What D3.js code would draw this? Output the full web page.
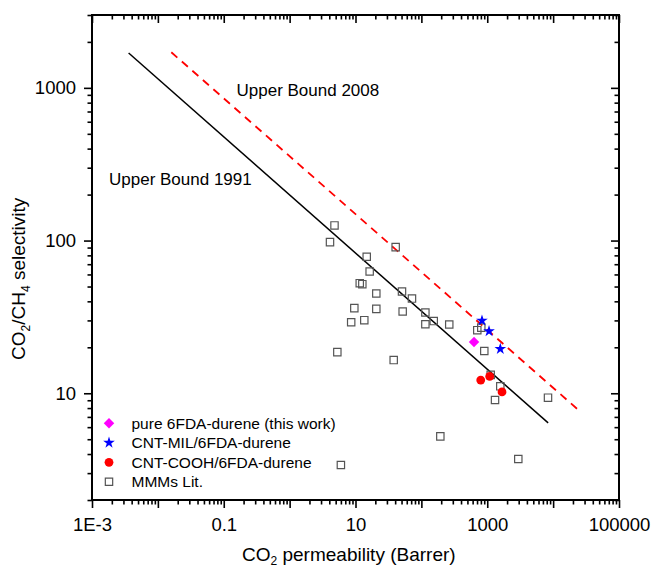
<!DOCTYPE html>
<html>
<head>
<meta charset="utf-8">
<script src="https://cdn.jsdelivr.net/npm/d3@7"></script>
<style>
  body { margin: 0; background: #fff; }
  svg { font-family: "Liberation Sans", Arial, sans-serif; }
</style>
</head>
<body>
<svg id="chart"></svg>
<script>
// MMMs literature data (CO2 permeability, CO2/CH4 selectivity)
const litPerm = [4.8, 4.1, 40.7, 14.8, 16.4, 11.6, 12.7, 20.7, 50.8, 72, 9.6, 20.7, 52, 13.6, 8.6,
  115, 115, 154, 265, 706, 812, 902, 5.3, 38, 1128, 1578, 1312, 8360, 194, 2960, 6.0];
const litSel = [125.6, 97.7, 90.6, 78.3, 62.7, 52.6, 51.8, 45.0, 46.4, 41.7, 36.1, 35.7, 34.3, 30.1, 29.2,
  33.8, 28.3, 29.7, 28.2, 25.9, 26.9, 18.9, 18.6, 16.5, 13.2, 11.1, 9.04, 9.36, 5.22, 3.71, 3.39];

const purePerm = [630];
const pureSel = [21.7];

const milPerm = [832, 1064, 1578];
const milSel = [29.9, 25.5, 19.5];

const coohPerm = [796, 1089, 1675];
const coohSel = [12.2, 12.9, 10.2];

// Robeson upper bounds, end points
const bound1991 = [[0.0036, 1690], [8400, 6.4]];
const bound2008 = [[0.016, 1710], [24800, 7.7]];

const xLabels = [1e-3, 1e-1, 1e1, 1e3, 1e5];
const legendNames = ["pure 6FDA-durene (this work)", "CNT-MIL/6FDA-durene", "CNT-COOH/6FDA-durene", "MMMs Lit."];

let width = 654,
  height = 569;
let mLeft = 92, mRight = 619, mTop = 15, mBottom = 500;

let svg = d3.select("#chart").attr("width", width).attr("height", height);

let x = d3.scaleLog().domain([1e-3, 1e5]).range([mLeft, mRight]);
let y = d3.scaleLog().domain([2, 3000]).range([mBottom, mTop]);

// tick values
let xMajor = d3.range(-3, 6).map((e) => Math.pow(10, e));
let xMinor = [];
for (let e = -3; e < 5; e++) {
  for (let m = 2; m < 10; m++) xMinor.push(m * Math.pow(10, e));
}
let yMajor = [10, 100, 1000];
let yMinor = [];
for (let e = 0; e < 4; e++) {
  for (let m = 2; m < 10; m++) {
    let v = m * Math.pow(10, e);
    if (v >= 2 && v <= 3000) yMinor.push(v);
  }
}

const fmtX = (d) => {
  if (!xLabels.includes(d)) return "";
  if (d === 1e-3) return "1E-3";
  return d < 1 ? d.toString() : d3.format("d")(d);
};

function styleAxis(g) {
  g.select(".domain").remove();
  g.selectAll("line").attr("stroke", "#000").attr("stroke-width", 1.6);
  g.selectAll("text").attr("font-size", 18.5).attr("fill", "#000");
}

// bottom
svg.append("g").attr("transform", `translate(0,${mBottom})`)
  .call(d3.axisBottom(x).tickValues(xMinor).tickSize(4.5).tickFormat(""))
  .call(styleAxis);
svg.append("g").attr("transform", `translate(0,${mBottom})`)
  .call(d3.axisBottom(x).tickValues(xMajor).tickSize(8).tickPadding(10).tickFormat(fmtX))
  .call(styleAxis);
// top (inward)
svg.append("g").attr("transform", `translate(0,${mTop})`)
  .call(d3.axisTop(x).tickValues(xMinor).tickSize(-4.5).tickFormat(""))
  .call(styleAxis);
svg.append("g").attr("transform", `translate(0,${mTop})`)
  .call(d3.axisTop(x).tickValues(xMajor).tickSize(-8).tickFormat(""))
  .call(styleAxis);
// left
svg.append("g").attr("transform", `translate(${mLeft},0)`)
  .call(d3.axisLeft(y).tickValues(yMinor).tickSize(4.5).tickFormat(""))
  .call(styleAxis);
svg.append("g").attr("transform", `translate(${mLeft},0)`)
  .call(d3.axisLeft(y).tickValues(yMajor).tickSize(8).tickPadding(8).tickFormat(d3.format("d")))
  .call(styleAxis);
// right (inward)
svg.append("g").attr("transform", `translate(${mRight},0)`)
  .call(d3.axisRight(y).tickValues(yMinor).tickSize(-4.5).tickFormat(""))
  .call(styleAxis);
svg.append("g").attr("transform", `translate(${mRight},0)`)
  .call(d3.axisRight(y).tickValues(yMajor).tickSize(-8).tickFormat(""))
  .call(styleAxis);

// frame
svg.append("rect")
  .attr("x", mLeft).attr("y", mTop)
  .attr("width", mRight - mLeft).attr("height", mBottom - mTop)
  .attr("fill", "none").attr("stroke", "#000").attr("stroke-width", 2);

// upper bound lines
let line = d3.line().x((d) => x(d[0])).y((d) => y(d[1]));
svg.append("path").datum(bound1991).attr("d", line)
  .attr("fill", "none").attr("stroke", "#000").attr("stroke-width", 1.5);
svg.append("path").datum(bound2008).attr("d", line)
  .attr("fill", "none").attr("stroke", "#ff0000").attr("stroke-width", 1.8)
  .style("stroke-dasharray", "8,6");

svg.append("text").attr("x", 236.5).attr("y", 96).attr("font-size", 17).text("Upper Bound 2008");
svg.append("text").attr("x", 109).attr("y", 185).attr("font-size", 17).text("Upper Bound 1991");

// literature squares
let squareSym = d3.symbol().type(d3.symbolSquare).size(54);
let litData = litPerm.map((p, i) => [p, litSel[i]]);
svg.append("g").selectAll("path").data(litData).enter().append("path")
  .attr("d", squareSym)
  .attr("transform", (d) => `translate(${x(d[0])},${y(d[1])})`)
  .attr("fill", "none").attr("stroke", "#555").attr("stroke-width", 1.2);

let diamondSym = d3.symbol().type(d3.symbolSquare).size(55);
svg.append("g").selectAll("path").data(purePerm.map((p, i) => [p, pureSel[i]])).enter().append("path")
  .attr("d", diamondSym)
  .attr("transform", (d) => `translate(${x(d[0])},${y(d[1])}) rotate(45)`)
  .attr("fill", "#ff00ff");

let starSym = d3.symbol().type(d3.symbolStar).size(42);
svg.append("g").selectAll("path").data(milPerm.map((p, i) => [p, milSel[i]])).enter().append("path")
  .attr("d", starSym)
  .attr("transform", (d) => `translate(${x(d[0])},${y(d[1])})`)
  .attr("fill", "#0000ff");

svg.append("g").selectAll("circle").data(coohPerm.map((p, i) => [p, coohSel[i]])).enter().append("circle")
  .attr("cx", (d) => x(d[0])).attr("cy", (d) => y(d[1])).attr("r", 4.4)
  .attr("fill", "#ff0000");

// legend
let legendY = [423.3, 442.7, 462.3, 481.7];
let lg = svg.append("g");
lg.append("path").attr("d", diamondSym).attr("transform", `translate(109,${legendY[0]}) rotate(45)`).attr("fill", "#ff00ff");
lg.append("path").attr("d", starSym).attr("transform", `translate(109,${legendY[1]})`).attr("fill", "#0000ff");
lg.append("circle").attr("cx", 109).attr("cy", legendY[2]).attr("r", 4.4).attr("fill", "#ff0000");
lg.append("path").attr("d", squareSym).attr("transform", `translate(109,${legendY[3]})`)
  .attr("fill", "none").attr("stroke", "#555").attr("stroke-width", 1.2);
lg.selectAll("text").data(legendNames).enter().append("text")
  .attr("x", 131.5).attr("y", (d, i) => legendY[i]).attr("dy", "0.36em")
  .attr("font-size", 15.5).text((d) => d);

// axis titles
let xt = svg.append("text").attr("x", 242).attr("y", 561).attr("font-size", 19);
xt.append("tspan").text("CO");
xt.append("tspan").attr("font-size", 12).attr("dy", 4).text("2");
xt.append("tspan").attr("dy", -4).text(" permeability (Barrer)");

let yt = svg.append("text").attr("transform", "translate(25,360) rotate(-90)").attr("font-size", 19);
yt.append("tspan").text("CO");
yt.append("tspan").attr("font-size", 12).attr("dy", 5).text("2");
yt.append("tspan").attr("dy", -5).text("/CH");
yt.append("tspan").attr("font-size", 12).attr("dy", 5).text("4");
yt.append("tspan").attr("dy", -5).text(" selectivity");
</script>
</body>
</html>
